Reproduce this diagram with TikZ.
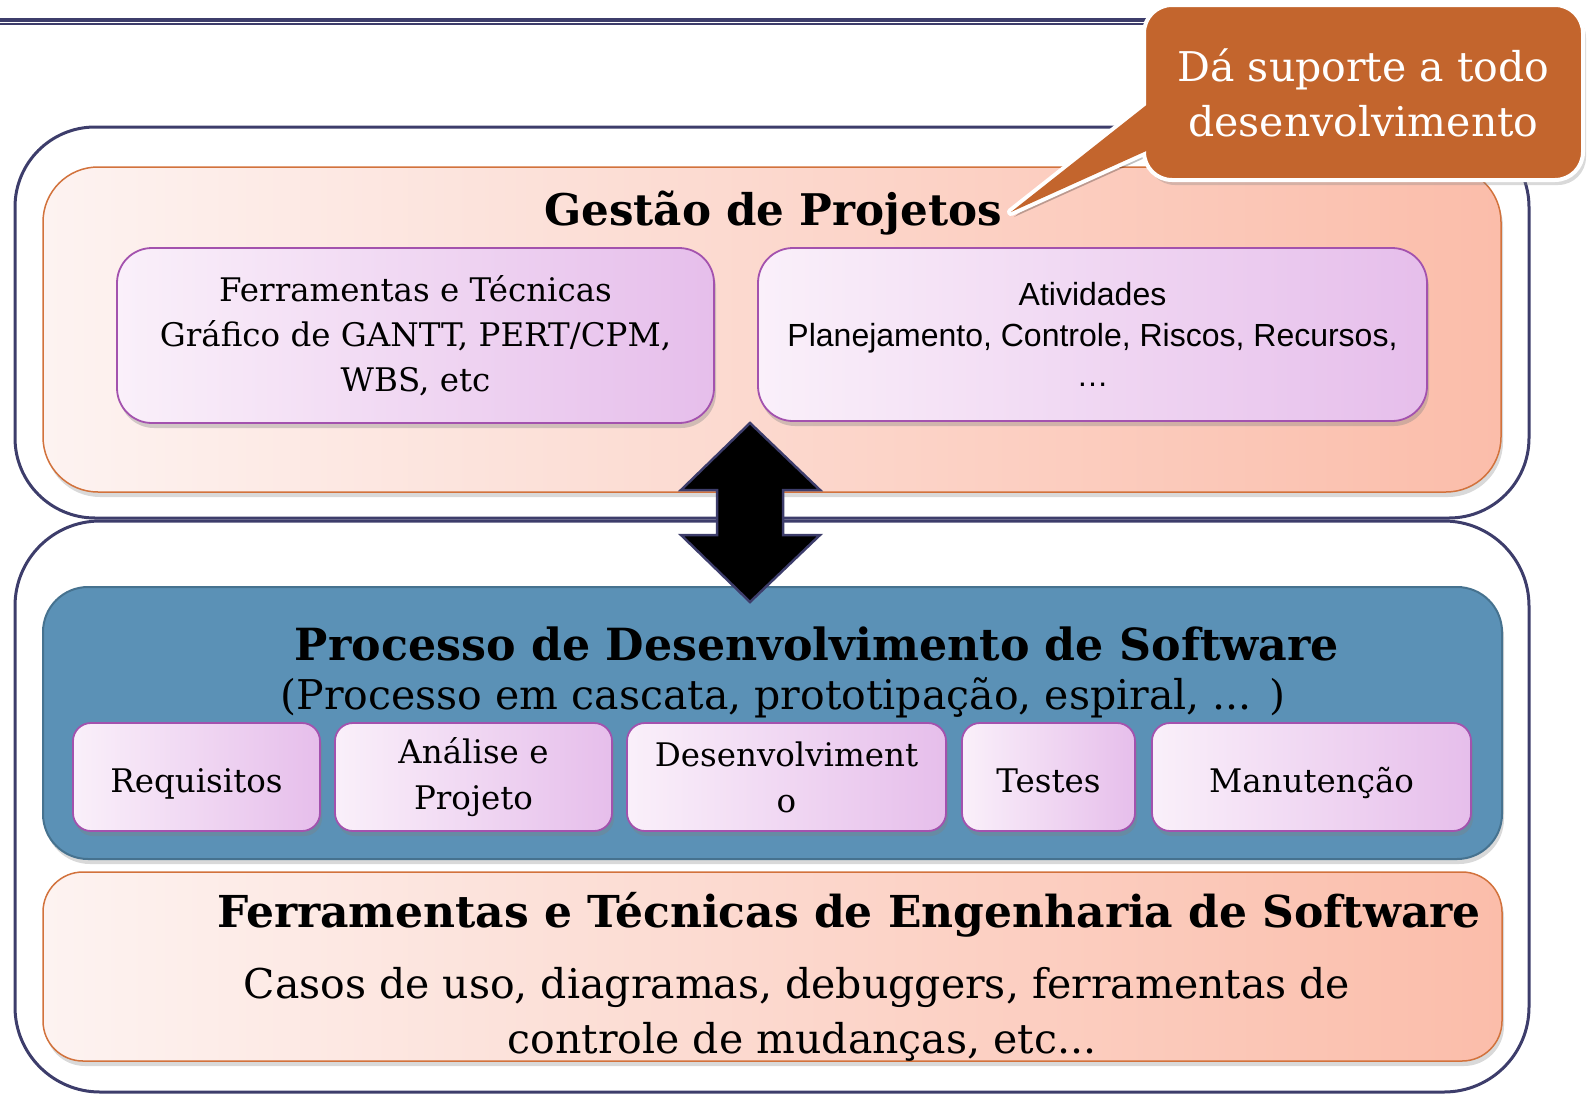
\documentclass[tikz,border=0pt]{standalone}
\usepackage{fontspec}
\setmainfont{DejaVu Serif}
\newfontfamily\sansf{Liberation Sans}
\usetikzlibrary{shadows}
\definecolor{navy}{HTML}{3D3D6B}
\definecolor{oborder}{HTML}{D2723C}
\definecolor{oleft}{HTML}{FDF3F1}
\definecolor{omid}{HTML}{FDE5DE}
\definecolor{oright}{HTML}{FBBDAA}
\definecolor{bfill}{HTML}{5B91B6}
\definecolor{bborder}{HTML}{46728F}
\definecolor{pborder}{HTML}{A352AE}
\definecolor{pleft}{HTML}{FAF0FA}
\definecolor{pright}{HTML}{E6BEEB}
\definecolor{calloutc}{HTML}{C3652D}
\begin{document}
\begin{tikzpicture}[x=1pt,y=-1pt,
  outerbox/.style={draw=navy, line width=3pt, inner sep=0pt},
  orangebox/.style={draw=oborder, line width=1.5pt, left color=oleft, middle color=omid, right color=oright, inner sep=0pt,
     drop shadow={shadow xshift=2pt, shadow yshift=-5pt, opacity=0.3}},
  bluebox/.style={draw=bborder, line width=2pt, fill=bfill, inner sep=0pt, rounded corners=45pt,
     drop shadow={shadow xshift=2pt, shadow yshift=-5pt, opacity=0.3}},
  purplebox/.style={draw=pborder, line width=1.8pt, left color=pleft, right color=pright, inner sep=0pt, align=center,
     drop shadow={shadow xshift=2pt, shadow yshift=-5pt, opacity=0.35}},
  smallbox/.style={purplebox, rounded corners=18pt, minimum height=108pt, font=\fontsize{32.5}{46}\selectfont},
  oneline/.style={text height=30pt, text depth=0pt},
  bigbox/.style={purplebox, rounded corners=35pt},
  titlef/.style={font=\fontsize{43.6}{50}\selectfont\bfseries, inner sep=0pt, anchor=base},
  plainf/.style={font=\fontsize{41}{50}\selectfont, inner sep=0pt, anchor=base},
]
\useasboundingbox (0,0) rectangle (1588,1095);

% top double line
\coordinate (l1a) at (0,19.5);  \coordinate (l1b) at (1150,19.5);
\coordinate (l2a) at (0,24.3);  \coordinate (l2b) at (1150,24.3);
\draw[navy, line width=4pt] (l1a) -- (l1b);
\draw[navy, line width=2pt] (l2a) -- (l2b);

% outer boxes
\node[outerbox, rounded corners=80pt, minimum width=1514pt, minimum height=391pt] (outerA) at (772,322.5) {};
\node[outerbox, rounded corners=85pt, minimum width=1514pt, minimum height=571pt] (outerB) at (772,806.5) {};

% Gestao de Projetos
\node[orangebox, rounded corners=55pt, minimum width=1458pt, minimum height=325pt] (gp) at (772,329.5) {};
\node[titlef] (gpt) at (773,225) {Gestão de Projetos};
\node[bigbox, minimum width=597pt, minimum height=175pt, font=\fontsize{32.5}{45}\selectfont] (ft) at (415.5,335.5)
  {Ferramentas e Técnicas\\Gráfico de GANTT, PERT/CPM,\\WBS, etc};
\node[bigbox, minimum width=669pt, minimum height=173pt, font=\sansf\fontsize{32}{40.5}\selectfont] (at) at (1092.5,334.5)
  {Atividades\\Planejamento, Controle, Riscos, Recursos,\\…};

% Processo
\node[bluebox, minimum width=1459pt, minimum height=272pt] (pd) at (772.5,723) {};
\node[titlef, font=\fontsize{44.3}{50}\selectfont\bfseries] (pdt) at (817,660) {Processo de Desenvolvimento de Software};
\node[plainf] (pds) at (783,709) {(Processo em cascata, prototipação, espiral, ... )};
\node[smallbox, oneline, minimum width=247pt] (req) at (196.5,777) {Requisitos};
\node[smallbox, minimum width=277pt] (ana) at (473.5,777) {Análise e\\Projeto};
\node[smallbox, minimum width=319pt] (des) at (786.5,777) {Desenvolviment\\o};
\node[smallbox, oneline, minimum width=173pt] (tes) at (1048.5,777) {Testes};
\node[smallbox, oneline, minimum width=319pt] (man) at (1311.5,777) {Manutenção};

% Ferramentas de Engenharia
\node[orangebox, rounded corners=40pt, minimum width=1459pt, minimum height=189pt] (fe) at (772.5,966.5) {};
\node[titlef, font=\fontsize{44}{50}\selectfont\bfseries] (fet) at (849,927) {Ferramentas e Técnicas de Engenharia de Software};
\node[plainf, font=\fontsize{41}{55}\selectfont] (fes1) at (797,998) {Casos de uso, diagramas, debuggers, ferramentas de};
\node[plainf, font=\fontsize{41}{55}\selectfont] (fes2) at (802,1053) {controle de mudanças, etc...};

% double arrow
\coordinate (a1) at (750,423);
\coordinate (a2) at (820,490);
\coordinate (a3) at (783,490);
\coordinate (a4) at (783,535);
\coordinate (a5) at (820,535);
\coordinate (a6) at (750,602);
\coordinate (a7) at (681,535);
\coordinate (a8) at (717,535);
\coordinate (a9) at (717,490);
\coordinate (a10) at (681,490);
\draw[navy, line width=2.5pt, fill=black, line join=miter]
  (a1) -- (a2) -- (a3) -- (a4) -- (a5) -- (a6) -- (a7) -- (a8) -- (a9) -- (a10) -- cycle;

% callout
\coordinate (tip) at (1011,212);
\coordinate (bu) at (1165,90.4);
\coordinate (bl) at (1165,142.5);
\fill[black, opacity=0.25] ([shift={(3,5)}]tip) -- ([shift={(3,5)}]bu) -- ([shift={(3,5)}]bl) -- cycle;
\draw[white, line width=8pt, line join=round] (tip) -- (bu) -- (bl) -- cycle;
\node[draw=white, line width=4pt, fill=calloutc, rounded corners=28pt, minimum width=439pt, minimum height=175pt,
  inner sep=0pt, align=center, text=white, font=\fontsize{41}{55}\selectfont,
  drop shadow={shadow xshift=3pt, shadow yshift=-5pt, opacity=0.3}] (callout) at (1363.5,92.5)
  {Dá suporte a todo\\desenvolvimento};
\fill[calloutc] (tip) -- (bu) -- (bl) -- cycle;
\end{tikzpicture}
\end{document}
